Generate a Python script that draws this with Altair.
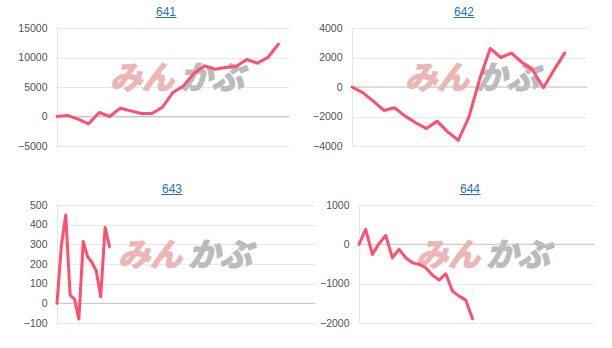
import altair as alt
import pandas as pd

# ---- data ----
titles = ["641", "642", "643", "644"]
s641 = [0, 170, -450, -1240, 680, 0, 1410, 960, 510, 510, 1580, 4070, 5200, 7340,
        8590, 8020, 8300, 8530, 9660, 9040, 10000, 12260]
s642 = [0, -386, -954, -1589, -1408, -1975, -2430, -2815, -2316, -3042, -3610,
        -2020, 522, 2610, 2000, 2300, 1657, 1135, -45, 1158, 2300]
s643 = [0, 293, 449, 42, 22, -80, 314, 237, 208, 163, 34, 386, 288]
s644 = [0, 382, -255, 17, 229, -340, -127, -340, -467, -510, -595, -782, -909,
        -748, -1189, -1317, -1419, -1895]

y_ticks = [
    [-5000, 0, 5000, 10000, 15000],
    [-4000, -2000, 0, 2000, 4000],
    [-100, 0, 100, 200, 300, 400, 500],
    [-2000, -1000, 0, 1000],
]
x_max = [22, 22.1, 59, 35.2]
watermark = ["みん", "かぶ"]

LINE = "#ff4f6e"
BLUE = "#1e6fc8"

# layout params per panel: width, axis extent, title center, logo center
widths = [232, 235, 258, 235]
extents = [45, 45, 47, 40]
title_cx = [109, 112, 115, 111]
logo_cx = [120, 120, 128, 124]
H = 118


def panel(k, series):
    df = pd.DataFrame({"i": list(range(len(series))), "v": series})
    ticks = y_ticks[k]
    w = widths[k]
    yscale = alt.Scale(domain=[ticks[0], ticks[-1]], nice=False, zero=False)
    base = alt.Chart(df)
    yax = alt.Axis(values=ticks, format="d", grid=True, gridColor="#e8e8e8", domain=True,
                   domainColor="#e6e6e6", ticks=False, labelPadding=10,
                   labelFont="Liberation Sans", labelFontSize=10.5,
                   labelColor="#505050", title=None,
                   minExtent=extents[k], maxExtent=extents[k])
    line = base.mark_line(color=LINE, strokeWidth=3, strokeJoin="round",
                          strokeCap="round").encode(
        x=alt.X("i:Q", scale=alt.Scale(domain=[0, x_max[k]], nice=False, zero=False), axis=None),
        y=alt.Y("v:Q", scale=yscale, axis=yax),
    )
    zero = alt.Chart(pd.DataFrame({"z": [0]})).mark_rule(color="#c4c4c4", strokeWidth=1).encode(
        y=alt.Y("z:Q", scale=yscale, axis=yax)
    )
    wm1 = alt.Chart(pd.DataFrame({"t": [watermark[0]]})).mark_text(
        font="Noto Sans CJK JP", fontSize=32, fontWeight="bold", fontStyle="italic",
        color="#ecb6b6", stroke="#ecb6b6", strokeWidth=1.5,
        align="center", baseline="middle").encode(
        text="t:N", x=alt.value(logo_cx[k] - 35), y=alt.value(51))
    wm2 = alt.Chart(pd.DataFrame({"t": [watermark[1]]})).mark_text(
        font="Noto Sans CJK JP", fontSize=32, fontWeight="bold", fontStyle="italic",
        color="#bbbbbb", stroke="#bbbbbb", strokeWidth=1.5,
        align="center", baseline="middle").encode(
        text="t:N", x=alt.value(logo_cx[k] + 35), y=alt.value(51))
    ttl = alt.Chart(pd.DataFrame({"t": [titles[k]]})).mark_text(
        font="Liberation Sans", fontSize=12, color=BLUE, align="center",
        baseline="alphabetic").encode(
        text="t:N", x=alt.value(title_cx[k]), y=alt.value(-12))
    ul = alt.Chart(pd.DataFrame({"t": [titles[k]]})).mark_rule(color=BLUE, strokeWidth=1).encode(
        x=alt.value(title_cx[k] - 10.5), x2=alt.value(title_cx[k] + 10.5), y=alt.value(-10.5))
    return alt.layer(wm1, wm2, zero, line, ttl, ul).properties(width=w, height=H)


p1 = panel(0, s641)
p2 = panel(1, s642)
p3 = panel(2, s643)
p4 = panel(3, s644)

row1 = alt.hconcat(p1, p2, spacing=17)
row2 = alt.hconcat(p3, p4, spacing=3)
chart = alt.vconcat(row1, row2, spacing=31).properties(
    padding={"left": 10, "top": 6, "right": 5, "bottom": 5}
).configure_view(stroke=None).resolve_scale(y="independent")

chart.save("out.html", embed_options={"renderer": "svg", "actions": False})
